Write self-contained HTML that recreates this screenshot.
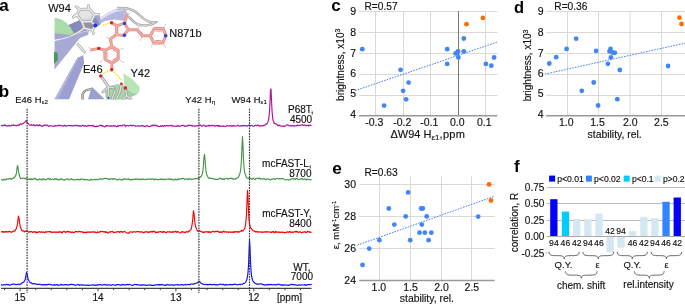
<!DOCTYPE html>
<html><head><meta charset="utf-8"><style>
html,body{margin:0;padding:0;background:#fff;}
body{width:685px;height:305px;overflow:hidden;}
svg{display:block;font-family:"Liberation Sans", sans-serif;will-change:transform;}
text{stroke:#111;stroke-width:0.15px;paint-order:stroke;} text[font-weight="bold"]{stroke:none;}
</style></head><body>
<svg width="685" height="305" viewBox="0 0 685 305">
<rect width="685" height="305" fill="#fff"/>
<text x="-0.7" y="11.0" font-size="17" text-anchor="start" font-weight="bold" fill="#000" >a</text>
<text x="-1.3" y="97.4" font-size="17" text-anchor="start" font-weight="bold" fill="#000" >b</text>
<text x="331.2" y="11.2" font-size="17" text-anchor="start" font-weight="bold" fill="#000" >c</text>
<text x="513.9" y="12.6" font-size="16.5" text-anchor="start" font-weight="bold" fill="#000" >d</text>
<text x="332.3" y="173.7" font-size="17.2" text-anchor="start" font-weight="bold" fill="#000" >e</text>
<text x="514.0" y="172.0" font-size="17" text-anchor="start" font-weight="bold" fill="#000" >f</text>

<g>
 <defs><clipPath id="clipA"><rect x="54" y="0" width="120" height="99.6"/></clipPath></defs>
 <g clip-path="url(#clipA)">
 <!-- band A (upper sheet) -->
 <polygon points="54.6,31 62,29 70,25 80,20 92,15.5 100,16 101,24 94,28 84,31 72,35.5 62,38.5 54.6,39.8" fill="#a2a5d2"/>
 <polygon points="66,26 80,20 96,18 100,25 88,30 76,33.5 66,33" fill="#878abd"/>
 <!-- band B -->
 <polygon points="54.6,41 64,38.8 74,35.5 84,31.5 89,31 88,35 80,38 66.2,55 54.4,69.7" fill="#a7aad5"/>
 <!-- dark green sliver -->
 <polygon points="54,52 57.5,52.5 58,60 54,64" fill="#4c9a58"/>
 <!-- long strand C -->
 <polygon points="54.4,99.6 77.3,58 83.2,55.3 84.2,63 69,99.6" fill="#9c9fcf"/>
 <polygon points="54.4,99.6 77.3,58 79,57.4 57.5,99.6" fill="#b3b5dc"/>
 <!-- bottom lavender -->
 <polygon points="91.8,86.7 105,99.6 88,99.6" fill="#9c9fcf"/>
 <!-- green helix top-left -->
 <path d="M54.6,17.8 C62,18.2 70,23.5 75.2,36.4 C68,34.4 60,33.7 54.6,33.6 Z" fill="#a9dca9"/>
 <!-- green helix bottom (Y42) -->
 <path d="M106,100 L105,93 L110,86 L118,84 L124,85.5 L129,90 L131,100 Z" fill="#a6d8a6"/>
 <path d="M123.3,73.2 C128,76 136,81 140,88 C139.5,91 138.5,93 137,94.5 C132,93 127,90 124.5,86 Z" fill="#b8e4b8"/>
 <path d="M124.5,86 C127,90 132,93 137,94.5 L131,97 L128,92 Z" fill="#9ccf9c"/>
 <!-- light sheet top right -->
 <polygon points="100,18 108,12.5 116.8,8.6 123.7,8 126,10 128.3,16 123.7,20.7 114,19.5 105,21 100,24" fill="#b4b6de"/>
 <polygon points="100,18 108,12.5 116.8,8.6 123.7,8 125,10 116,12 108,15.5 101,20" fill="#dcdef2"/>
 <!-- gray loops -->
 <path d="M117,8.5 C126,7 134,9.5 140,15.5 C145,20.5 150,22.8 155,22.5 C152,25 145,26 140,25 C135,24 131,19 128.5,16.5" fill="none" stroke="#a0a0a0" stroke-width="2.4"/>
 <path d="M117,8.5 C126,7 134,9.5 140,15.5 C145,20.5 150,22.8 155,22.5 C152,25 145,26 140,25 C135,24 131,19 128.5,16.5" fill="none" stroke="#e4e4e4" stroke-width="1"/>
 <path d="M83,100 C81,93 85,88.5 91.5,89.5" fill="none" stroke="#808080" stroke-width="2.4"/>
 <path d="M83,100 C81,93 85,88.5 91.5,89.5" fill="none" stroke="#d0d0d0" stroke-width="0.9"/>
 <!-- W94 sticks (white-gray) -->
 <g id="w94" fill="none" stroke-linejoin="round" stroke-linecap="round">
  <path id="w94p" d="M76.8,14.6 L79.8,9.3 L89,8.8 L94.6,14.6 L91.2,21.6 L81.8,21.6 Z M91.2,21.6 L95.3,25.6 L92.3,30.1 L84.4,28.2 L81.8,21.6 M84.4,28.2 L78,32.5 L71,36 M79.8,9.3 L76,6.6 M89,8.8 L88.5,5.6 M94.6,14.6 L98.8,14.6 M76.8,14.6 L73.2,17.2 M92.3,30.1 L93.5,33.5 M78,44.5 L84.5,52"/>
 </g>
 <polygon points="76.8,14.6 79.8,9.3 89,8.8 94.6,14.6 91.2,21.6 81.8,21.6" fill="#e2e2e2" fill-opacity="0.9"/>
 <polygon points="91.2,21.6 95.3,25.6 92.3,30.1 84.4,28.2 81.8,21.6" fill="#9a9a9a" fill-opacity="0.6"/>
 <use href="#w94p" stroke="#a4a4a4" stroke-width="2.7" fill="none" stroke-linejoin="round" stroke-linecap="round"/>
 <use href="#w94p" stroke="#f2f2f2" stroke-width="1.3" fill="none" stroke-linejoin="round" stroke-linecap="round"/>
 <circle cx="95.3" cy="25.6" r="2" fill="#2233ee"/>
 <!-- E46 / Y42 sticks -->
 <path id="e46p" d="M100.8,75.9 L108.6,86.9 L108,96 M108.6,86.9 L114.5,88 M108.6,86.9 L103,92 M125.4,88 L126.5,95.5 L122.5,100 M121.5,84 L119.5,93 L116,100 M115,91 L112,99.6 M126.5,95.5 L131,99"
   fill="none"/>
 <use href="#e46p" stroke="#a0a0a0" stroke-width="2.8" stroke-linejoin="round" stroke-linecap="round"/>
 <use href="#e46p" stroke="#e2e2e2" stroke-width="1.2" stroke-linejoin="round" stroke-linecap="round"/>
 <circle cx="100.8" cy="75.9" r="1.7" fill="#dd2222"/>
 <circle cx="125.4" cy="88" r="1.8" fill="#dd2222"/>
 <circle cx="121.3" cy="83.8" r="1.2" fill="#dd2222"/>
 <circle cx="108.5" cy="98" r="1" fill="#2233ee"/>
 <!-- ligand -->
 <g stroke="#d6d6d6" stroke-width="1.1" fill="none" stroke-linecap="round">
  <path d="M120.5,49.5 L123.5,48 M120.5,60.5 L123.5,62.5 M102.5,60.5 L100,62.5 M109,39 L106.5,37 M138,29 L139,25.5 M142,37 L140.5,40.5 M164,27 L165.5,24.5 M164,44.5 L165.5,47 M152.5,44.5 L151,47 M91,49.7 L89,47 M91,49.7 L90,52.5 M127,15 L130,13 M127,15 L124,13"/>
 </g>
 <g fill="none" stroke="#e38e86" stroke-width="3" stroke-linejoin="round" stroke-linecap="round">
  <path id="lig1" d="M116.7,25.8 L124.5,23.2 L128.4,29.7 L123.5,35.4 L116.6,34.6 Z M124.5,23.2 L127,15 M128.4,29.7 L137.2,29.7 L142.2,35.7 L150.3,35.7 M150.3,35.7 L154.3,28.4 L163.1,28.4 L166,35.7 L162.6,43.1 L153.8,43.1 Z M117.3,33.7 L110.5,39 L111.8,46.9 M111.8,46.9 L118.2,50.3 L118.2,59.2 L111.8,63.1 L104.9,59.2 L104.9,50.3 Z M104.9,50.3 L98.8,48.4 L92,49.7 M111.8,63.1 L111.8,69.5 M116.7,25.8 L112,23"/>
 </g>
 <g fill="none" stroke="#f3b5ad" stroke-width="1.1" stroke-linejoin="round" stroke-linecap="round">
  <use href="#lig1"/>
 </g>
 <g fill="none" stroke="#e38e86" stroke-width="1" stroke-linecap="round">
  <path d="M113,50 L116.3,51.8 M116.3,57.8 L113,59.8 M107,57.5 L107,52 M156,31 L161.5,31 M161,40.6 L155.5,40.6 M140.5,31.8 L142.8,34"/>
 </g>
 <circle cx="111.5" cy="22.7" r="1.7" fill="#e02020"/>
 <circle cx="111.7" cy="69.7" r="1.7" fill="#e02020"/>
 <circle cx="98.8" cy="48.4" r="1.7" fill="#e02020"/>
 <circle cx="124.5" cy="23.4" r="1.7" fill="#2244ee"/>
 <circle cx="124.5" cy="35.2" r="1.7" fill="#2244ee"/>
 <circle cx="165.6" cy="35.7" r="1.8" fill="#2244ee"/>
 <!-- H-bonds -->
 <path d="M102.7,25.6 L109,23.2 M110.4,70.2 L102.6,73.5 M113.9,71.9 L122.5,81.1" stroke="#e8e81a" stroke-width="1.6" stroke-dasharray="1.4,1.1" fill="none"/>
 </g>
</g>

<text x="48.2" y="11.8" font-size="11" text-anchor="start" font-weight="normal" fill="#111" >W94</text>
<text x="83" y="72.8" font-size="11" text-anchor="start" font-weight="normal" fill="#111" >E46</text>
<text x="169.2" y="37" font-size="11" text-anchor="start" font-weight="normal" fill="#111" >N871b</text>
<text x="130.5" y="77.2" font-size="11" text-anchor="start" font-weight="normal" fill="#111" >Y42</text>
<g>
<path d="M1.0,125.40 L1.5,125.59 L2.0,125.48 L2.5,125.69 L3.0,125.83 L3.5,125.23 L4.0,124.84 L4.5,125.60 L5.0,125.32 L5.5,125.13 L6.0,125.94 L6.5,125.74 L7.0,126.07 L7.5,125.81 L8.0,125.85 L8.5,125.28 L9.0,125.54 L9.5,125.95 L10.0,125.75 L10.5,125.89 L11.0,125.87 L11.5,125.12 L12.0,125.52 L12.5,125.53 L13.0,125.17 L13.5,124.62 L14.0,125.31 L14.5,125.19 L15.0,125.40 L15.5,125.68 L16.0,125.61 L16.5,125.79 L17.0,125.22 L17.5,125.37 L18.0,124.98 L18.5,125.32 L19.0,125.40 L19.5,124.46 L20.0,123.95 L20.5,123.72 L21.0,124.43 L21.5,124.13 L22.0,124.13 L22.5,123.66 L23.0,123.55 L23.5,123.20 L24.0,122.76 L24.5,122.48 L25.0,121.86 L25.5,121.36 L26.0,120.59 L26.5,121.03 L27.0,122.04 L27.5,123.26 L28.0,123.75 L28.5,123.53 L29.0,124.32 L29.5,124.95 L30.0,125.28 L30.5,125.11 L31.0,125.23 L31.5,124.73 L32.0,125.24 L32.5,125.24 L33.0,124.92 L33.5,124.50 L34.0,125.25 L34.5,125.84 L35.0,125.10 L35.5,125.56 L36.0,125.37 L36.5,124.96 L37.0,124.92 L37.5,125.48 L38.0,125.93 L38.5,125.19 L39.0,125.48 L39.5,124.96 L40.0,125.49 L40.5,125.33 L41.0,125.90 L41.5,126.35 L42.0,126.03 L42.5,126.45 L43.0,125.86 L43.5,125.26 L44.0,125.56 L44.5,125.05 L45.0,124.97 L45.5,125.19 L46.0,125.55 L46.5,125.21 L47.0,124.89 L47.5,125.71 L48.0,125.49 L48.5,126.15 L49.0,126.44 L49.5,125.98 L50.0,125.83 L50.5,125.82 L51.0,125.97 L51.5,125.99 L52.0,125.96 L52.5,126.02 L53.0,126.44 L53.5,126.15 L54.0,125.91 L54.5,126.12 L55.0,125.66 L55.5,125.48 L56.0,126.20 L56.5,126.04 L57.0,125.99 L57.5,125.32 L58.0,125.44 L58.5,125.70 L59.0,125.18 L59.5,125.60 L60.0,125.86 L60.5,125.31 L61.0,125.70 L61.5,125.71 L62.0,125.98 L62.5,125.73 L63.0,126.03 L63.5,126.22 L64.0,125.47 L64.5,125.11 L65.0,125.65 L65.5,126.29 L66.0,125.79 L66.5,125.76 L67.0,125.91 L67.5,125.66 L68.0,125.58 L68.5,125.48 L69.0,125.49 L69.5,125.76 L70.0,125.56 L70.5,125.54 L71.0,126.01 L71.5,125.37 L72.0,125.67 L72.5,126.04 L73.0,125.73 L73.5,125.45 L74.0,126.00 L74.5,125.62 L75.0,125.35 L75.5,125.50 L76.0,125.90 L76.5,125.40 L77.0,125.40 L77.5,125.41 L78.0,126.01 L78.5,125.87 L79.0,126.29 L79.5,125.70 L80.0,125.58 L80.5,125.89 L81.0,126.34 L81.5,126.07 L82.0,125.65 L82.5,125.29 L83.0,125.59 L83.5,125.34 L84.0,125.95 L84.5,126.32 L85.0,125.74 L85.5,125.53 L86.0,126.05 L86.5,126.14 L87.0,126.39 L87.5,125.97 L88.0,125.48 L88.5,125.41 L89.0,125.97 L89.5,125.65 L90.0,125.57 L90.5,125.61 L91.0,125.63 L91.5,125.63 L92.0,126.25 L92.5,125.67 L93.0,125.17 L93.5,126.02 L94.0,126.41 L94.5,126.75 L95.0,126.28 L95.5,126.64 L96.0,126.81 L96.5,126.06 L97.0,126.27 L97.5,126.50 L98.0,126.41 L98.5,126.20 L99.0,125.80 L99.5,125.65 L100.0,125.42 L100.5,125.11 L101.0,125.56 L101.5,125.45 L102.0,126.02 L102.5,125.41 L103.0,126.11 L103.5,126.24 L104.0,126.59 L104.5,126.74 L105.0,126.84 L105.5,126.50 L106.0,125.64 L106.5,126.04 L107.0,125.58 L107.5,125.47 L108.0,125.85 L108.5,125.90 L109.0,125.79 L109.5,126.36 L110.0,126.28 L110.5,125.91 L111.0,125.60 L111.5,126.16 L112.0,126.01 L112.5,126.29 L113.0,125.93 L113.5,125.55 L114.0,125.74 L114.5,126.19 L115.0,125.66 L115.5,126.11 L116.0,126.51 L116.5,126.60 L117.0,126.67 L117.5,125.72 L118.0,125.95 L118.5,126.36 L119.0,125.60 L119.5,125.46 L120.0,125.37 L120.5,125.64 L121.0,125.66 L121.5,125.73 L122.0,126.13 L122.5,125.42 L123.0,125.10 L123.5,125.00 L124.0,124.95 L124.5,124.85 L125.0,125.89 L125.5,126.31 L126.0,125.62 L126.5,125.75 L127.0,125.59 L127.5,125.50 L128.0,125.50 L128.5,125.85 L129.0,125.97 L129.5,125.77 L130.0,125.45 L130.5,125.44 L131.0,125.19 L131.5,125.57 L132.0,125.97 L132.5,125.79 L133.0,125.33 L133.5,125.20 L134.0,125.35 L134.5,125.72 L135.0,126.13 L135.5,125.88 L136.0,126.25 L136.5,126.23 L137.0,126.00 L137.5,125.79 L138.0,125.83 L138.5,126.10 L139.0,125.91 L139.5,126.13 L140.0,125.98 L140.5,125.63 L141.0,125.79 L141.5,126.07 L142.0,125.47 L142.5,125.57 L143.0,125.62 L143.5,126.20 L144.0,126.58 L144.5,126.12 L145.0,126.49 L145.5,126.57 L146.0,125.98 L146.5,125.89 L147.0,125.44 L147.5,126.02 L148.0,126.15 L148.5,126.50 L149.0,126.58 L149.5,126.47 L150.0,126.49 L150.5,126.29 L151.0,125.64 L151.5,125.85 L152.0,125.28 L152.5,125.12 L153.0,125.80 L153.5,125.29 L154.0,125.07 L154.5,124.96 L155.0,125.83 L155.5,125.47 L156.0,125.09 L156.5,125.86 L157.0,125.42 L157.5,126.04 L158.0,126.18 L158.5,126.45 L159.0,126.74 L159.5,126.45 L160.0,126.56 L160.5,125.70 L161.0,126.11 L161.5,126.02 L162.0,126.22 L162.5,125.60 L163.0,126.03 L163.5,126.49 L164.0,125.69 L164.5,125.57 L165.0,125.79 L165.5,126.23 L166.0,125.76 L166.5,125.44 L167.0,125.34 L167.5,125.72 L168.0,126.10 L168.5,125.88 L169.0,125.72 L169.5,125.67 L170.0,125.59 L170.5,125.62 L171.0,125.24 L171.5,125.53 L172.0,126.26 L172.5,125.99 L173.0,126.24 L173.5,125.67 L174.0,126.00 L174.5,126.25 L175.0,126.30 L175.5,126.13 L176.0,126.00 L176.5,126.12 L177.0,126.49 L177.5,125.80 L178.0,125.35 L178.5,125.89 L179.0,126.38 L179.5,126.18 L180.0,125.97 L180.5,126.19 L181.0,125.68 L181.5,125.49 L182.0,125.30 L182.5,125.66 L183.0,125.54 L183.5,125.37 L184.0,125.82 L184.5,126.39 L185.0,125.91 L185.5,126.14 L186.0,125.91 L186.5,126.31 L187.0,126.21 L187.5,125.77 L188.0,125.47 L188.5,125.07 L189.0,125.40 L189.5,125.46 L190.0,125.23 L190.5,125.34 L191.0,125.34 L191.5,125.88 L192.0,125.42 L192.5,126.18 L193.0,125.97 L193.5,125.99 L194.0,125.83 L194.5,126.17 L195.0,126.32 L195.5,126.06 L196.0,125.79 L196.5,125.88 L197.0,126.03 L197.5,125.48 L198.0,125.50 L198.5,125.72 L199.0,125.28 L199.5,124.84 L200.0,124.71 L200.5,125.30 L201.0,125.63 L201.5,126.18 L202.0,126.38 L202.5,125.77 L203.0,125.39 L203.5,125.27 L204.0,125.12 L204.5,125.67 L205.0,126.16 L205.5,126.49 L206.0,125.90 L206.5,126.31 L207.0,125.87 L207.5,125.77 L208.0,126.08 L208.5,125.48 L209.0,125.16 L209.5,125.87 L210.0,125.62 L210.5,125.55 L211.0,125.79 L211.5,126.03 L212.0,125.37 L212.5,125.39 L213.0,125.53 L213.5,125.66 L214.0,125.41 L214.5,125.72 L215.0,126.33 L215.5,125.99 L216.0,125.99 L216.5,125.48 L217.0,125.39 L217.5,125.80 L218.0,125.37 L218.5,126.06 L219.0,126.47 L219.5,125.72 L220.0,126.32 L220.5,125.97 L221.0,126.25 L221.5,126.39 L222.0,125.91 L222.5,126.11 L223.0,126.19 L223.5,126.41 L224.0,125.89 L224.5,126.19 L225.0,126.60 L225.5,126.48 L226.0,126.25 L226.5,125.62 L227.0,125.72 L227.5,125.61 L228.0,125.99 L228.5,126.15 L229.0,126.10 L229.5,125.62 L230.0,125.91 L230.5,126.05 L231.0,125.58 L231.5,126.18 L232.0,126.22 L232.5,125.61 L233.0,126.24 L233.5,125.64 L234.0,125.54 L234.5,125.95 L235.0,126.03 L235.5,126.02 L236.0,126.13 L236.5,125.96 L237.0,125.69 L237.5,125.38 L238.0,125.08 L238.5,125.69 L239.0,126.07 L239.5,126.02 L240.0,126.23 L240.5,125.89 L241.0,125.59 L241.5,125.57 L242.0,126.14 L242.5,125.46 L243.0,125.64 L243.5,125.43 L244.0,125.94 L244.5,125.72 L245.0,125.57 L245.5,125.57 L246.0,125.74 L246.5,126.10 L247.0,125.80 L247.5,126.23 L248.0,125.58 L248.5,125.41 L249.0,125.11 L249.5,124.96 L250.0,125.67 L250.5,126.00 L251.0,125.53 L251.5,125.27 L252.0,125.40 L252.5,125.86 L253.0,126.20 L253.5,126.30 L254.0,126.16 L254.5,125.55 L255.0,125.51 L255.5,125.24 L256.0,125.48 L256.5,125.66 L257.0,125.31 L257.5,125.17 L258.0,125.72 L258.5,125.11 L259.0,125.69 L259.5,126.11 L260.0,126.39 L260.5,125.85 L261.0,125.73 L261.5,125.69 L262.0,125.69 L262.5,126.08 L263.0,125.90 L263.5,125.29 L264.0,125.57 L264.5,125.20 L265.0,125.05 L265.5,124.99 L266.0,123.93 L266.5,124.05 L267.0,123.67 L267.5,122.80 L268.0,121.66 L268.5,119.80 L269.0,116.48 L269.5,111.46 L270.0,101.84 L270.5,90.31 L271.0,88.95 L271.5,100.05 L272.0,110.20 L272.5,116.60 L273.0,120.11 L273.5,121.26 L274.0,122.83 L274.5,123.62 L275.0,123.48 L275.5,123.87 L276.0,124.01 L276.5,123.96 L277.0,124.53 L277.5,125.36 L278.0,125.12 L278.5,125.68 L279.0,125.80 L279.5,125.21 L280.0,125.78 L280.5,125.80 L281.0,126.21 L281.5,126.20 L282.0,126.23 L282.5,125.78 L283.0,126.10 L283.5,126.43 L284.0,126.54 L284.5,126.09 L285.0,126.23 L285.5,125.99 L286.0,125.41 L286.5,125.02 L287.0,124.85 L287.5,124.90 L288.0,124.89 L288.5,125.29 L289.0,125.75 L289.5,125.82 L290.0,125.72 L290.5,125.94 L291.0,125.64 L291.5,125.68 L292.0,126.05 L292.5,125.83 L293.0,125.44 L293.5,126.10 L294.0,126.24 L294.5,125.90 L295.0,125.71 L295.5,125.81 L296.0,125.94 L296.5,125.56 L297.0,125.09 L297.5,125.08 L298.0,125.77 L298.5,125.38 L299.0,125.54 L299.5,125.32 L300.0,125.21 L300.5,125.11 L301.0,125.33 L301.5,125.17 L302.0,124.91 L302.5,124.87 L303.0,124.92 L303.5,125.33 L304.0,125.04 L304.5,124.84 L305.0,125.24 L305.5,125.41 L306.0,125.86 L306.5,125.33 L307.0,125.45 L307.5,125.52 L308.0,125.11 L308.5,126.01 L309.0,125.61 L309.5,125.24 L310.0,125.50 L310.5,125.26 L311.0,125.69 L311.5,125.59" fill="none" stroke="#b0109c" stroke-width="1.15" stroke-linejoin="round"/>
<path d="M1.0,179.38 L1.5,179.60 L2.0,179.79 L2.5,180.06 L3.0,179.97 L3.5,180.13 L4.0,179.14 L4.5,179.12 L5.0,179.68 L5.5,179.63 L6.0,179.90 L6.5,179.09 L7.0,179.07 L7.5,178.78 L8.0,178.97 L8.5,179.10 L9.0,178.49 L9.5,178.38 L10.0,178.37 L10.5,179.11 L11.0,179.31 L11.5,178.66 L12.0,179.01 L12.5,178.36 L13.0,178.49 L13.5,177.87 L14.0,177.21 L14.5,177.65 L15.0,176.74 L15.5,175.64 L16.0,174.93 L16.5,172.65 L17.0,168.20 L17.5,165.51 L18.0,166.87 L18.5,171.03 L19.0,173.64 L19.5,176.12 L20.0,177.26 L20.5,178.30 L21.0,178.85 L21.5,178.50 L22.0,178.43 L22.5,178.19 L23.0,178.07 L23.5,177.93 L24.0,178.16 L24.5,178.67 L25.0,178.24 L25.5,178.83 L26.0,178.75 L26.5,178.69 L27.0,179.27 L27.5,179.19 L28.0,178.95 L28.5,179.03 L29.0,179.34 L29.5,178.74 L30.0,179.52 L30.5,178.80 L31.0,179.29 L31.5,179.67 L32.0,178.89 L32.5,179.39 L33.0,179.16 L33.5,179.29 L34.0,178.67 L34.5,178.39 L35.0,178.39 L35.5,179.32 L36.0,178.93 L36.5,179.38 L37.0,179.84 L37.5,180.11 L38.0,179.54 L38.5,179.24 L39.0,179.28 L39.5,179.60 L40.0,178.98 L40.5,179.41 L41.0,179.70 L41.5,179.94 L42.0,179.08 L42.5,179.70 L43.0,179.02 L43.5,178.94 L44.0,179.22 L44.5,179.75 L45.0,179.34 L45.5,179.82 L46.0,179.63 L46.5,179.25 L47.0,179.04 L47.5,178.76 L48.0,178.49 L48.5,178.42 L49.0,179.04 L49.5,179.74 L50.0,179.13 L50.5,178.66 L51.0,179.52 L51.5,179.45 L52.0,179.26 L52.5,178.96 L53.0,179.22 L53.5,179.64 L54.0,179.43 L54.5,179.27 L55.0,178.74 L55.5,179.49 L56.0,178.84 L56.5,179.03 L57.0,179.55 L57.5,178.99 L58.0,179.40 L58.5,179.89 L59.0,179.78 L59.5,179.90 L60.0,179.15 L60.5,179.14 L61.0,178.78 L61.5,179.42 L62.0,179.12 L62.5,179.14 L63.0,179.81 L63.5,180.00 L64.0,180.25 L64.5,179.76 L65.0,179.53 L65.5,179.70 L66.0,179.49 L66.5,179.15 L67.0,179.10 L67.5,178.76 L68.0,178.85 L68.5,179.63 L69.0,180.03 L69.5,179.85 L70.0,179.60 L70.5,179.27 L71.0,178.78 L71.5,178.74 L72.0,179.33 L72.5,179.75 L73.0,179.38 L73.5,179.68 L74.0,179.84 L74.5,179.82 L75.0,179.78 L75.5,179.87 L76.0,179.45 L76.5,179.62 L77.0,179.21 L77.5,179.23 L78.0,179.58 L78.5,179.68 L79.0,179.26 L79.5,179.81 L80.0,179.76 L80.5,179.64 L81.0,178.90 L81.5,179.13 L82.0,178.91 L82.5,179.29 L83.0,179.24 L83.5,179.65 L84.0,179.66 L84.5,179.85 L85.0,179.42 L85.5,179.53 L86.0,179.71 L86.5,179.92 L87.0,179.46 L87.5,179.79 L88.0,180.01 L88.5,179.91 L89.0,180.21 L89.5,180.34 L90.0,179.89 L90.5,179.66 L91.0,179.09 L91.5,179.59 L92.0,179.98 L92.5,179.64 L93.0,179.72 L93.5,179.79 L94.0,179.84 L94.5,179.20 L95.0,179.58 L95.5,179.55 L96.0,179.63 L96.5,179.38 L97.0,179.49 L97.5,179.73 L98.0,179.70 L98.5,179.78 L99.0,178.99 L99.5,178.72 L100.0,178.91 L100.5,179.26 L101.0,178.94 L101.5,179.32 L102.0,179.47 L102.5,178.84 L103.0,179.01 L103.5,178.81 L104.0,178.49 L104.5,178.41 L105.0,178.59 L105.5,178.52 L106.0,178.50 L106.5,178.30 L107.0,178.71 L107.5,178.83 L108.0,179.17 L108.5,179.33 L109.0,179.00 L109.5,179.62 L110.0,178.87 L110.5,178.95 L111.0,178.84 L111.5,178.93 L112.0,178.63 L112.5,179.33 L113.0,179.16 L113.5,178.66 L114.0,179.08 L114.5,178.69 L115.0,179.02 L115.5,178.95 L116.0,179.20 L116.5,179.79 L117.0,179.95 L117.5,179.56 L118.0,179.81 L118.5,179.75 L119.0,179.39 L119.5,178.91 L120.0,179.20 L120.5,179.32 L121.0,179.85 L121.5,180.16 L122.0,179.90 L122.5,179.45 L123.0,179.85 L123.5,179.00 L124.0,178.66 L124.5,179.02 L125.0,179.28 L125.5,178.85 L126.0,179.21 L126.5,179.71 L127.0,179.37 L127.5,179.25 L128.0,178.94 L128.5,178.85 L129.0,179.61 L129.5,179.32 L130.0,179.86 L130.5,180.10 L131.0,179.85 L131.5,179.31 L132.0,179.88 L132.5,179.61 L133.0,179.36 L133.5,179.11 L134.0,179.77 L134.5,179.55 L135.0,179.17 L135.5,179.20 L136.0,178.79 L136.5,179.16 L137.0,179.15 L137.5,178.96 L138.0,179.45 L138.5,179.77 L139.0,178.97 L139.5,179.15 L140.0,178.94 L140.5,179.62 L141.0,179.81 L141.5,179.27 L142.0,179.00 L142.5,178.71 L143.0,179.56 L143.5,179.19 L144.0,179.36 L144.5,179.30 L145.0,179.47 L145.5,179.51 L146.0,179.70 L146.5,179.06 L147.0,179.47 L147.5,179.15 L148.0,179.25 L148.5,179.07 L149.0,178.92 L149.5,179.12 L150.0,179.15 L150.5,179.04 L151.0,179.45 L151.5,179.48 L152.0,178.84 L152.5,178.74 L153.0,178.93 L153.5,179.59 L154.0,179.92 L154.5,179.69 L155.0,178.92 L155.5,179.42 L156.0,179.27 L156.5,179.36 L157.0,179.58 L157.5,179.60 L158.0,179.43 L158.5,179.86 L159.0,179.46 L159.5,179.25 L160.0,179.68 L160.5,179.14 L161.0,178.96 L161.5,179.50 L162.0,178.88 L162.5,179.46 L163.0,179.61 L163.5,179.38 L164.0,179.07 L164.5,179.50 L165.0,179.89 L165.5,179.18 L166.0,179.20 L166.5,179.29 L167.0,179.28 L167.5,179.07 L168.0,178.74 L168.5,179.08 L169.0,179.54 L169.5,178.90 L170.0,178.74 L170.5,179.36 L171.0,179.67 L171.5,179.68 L172.0,178.92 L172.5,179.34 L173.0,179.88 L173.5,180.20 L174.0,180.02 L174.5,179.13 L175.0,179.60 L175.5,179.11 L176.0,179.35 L176.5,179.85 L177.0,179.83 L177.5,179.13 L178.0,178.93 L178.5,179.57 L179.0,179.00 L179.5,179.24 L180.0,179.14 L180.5,178.77 L181.0,179.13 L181.5,178.62 L182.0,178.42 L182.5,178.64 L183.0,178.39 L183.5,178.23 L184.0,178.76 L184.5,179.25 L185.0,179.68 L185.5,179.03 L186.0,179.02 L186.5,178.87 L187.0,179.13 L187.5,179.14 L188.0,179.68 L188.5,179.29 L189.0,178.69 L189.5,179.13 L190.0,178.71 L190.5,179.05 L191.0,179.08 L191.5,179.58 L192.0,179.41 L192.5,179.40 L193.0,178.95 L193.5,179.03 L194.0,178.71 L194.5,179.12 L195.0,179.04 L195.5,178.52 L196.0,178.33 L196.5,178.36 L197.0,178.78 L197.5,178.29 L198.0,178.62 L198.5,178.65 L199.0,177.90 L199.5,178.07 L200.0,177.31 L200.5,176.71 L201.0,176.61 L201.5,175.65 L202.0,175.11 L202.5,173.06 L203.0,169.53 L203.5,164.50 L204.0,156.69 L204.5,154.42 L205.0,159.41 L205.5,166.02 L206.0,171.37 L206.5,174.17 L207.0,175.29 L207.5,175.91 L208.0,177.39 L208.5,177.92 L209.0,178.48 L209.5,178.03 L210.0,178.42 L210.5,178.34 L211.0,178.19 L211.5,178.26 L212.0,178.65 L212.5,178.57 L213.0,178.59 L213.5,178.31 L214.0,179.00 L214.5,179.18 L215.0,179.47 L215.5,179.19 L216.0,179.55 L216.5,179.35 L217.0,179.33 L217.5,179.31 L218.0,179.49 L218.5,179.19 L219.0,178.66 L219.5,178.30 L220.0,178.31 L220.5,178.11 L221.0,179.03 L221.5,179.04 L222.0,179.39 L222.5,178.66 L223.0,178.83 L223.5,179.42 L224.0,179.42 L224.5,179.19 L225.0,179.11 L225.5,178.62 L226.0,178.42 L226.5,178.31 L227.0,178.50 L227.5,178.62 L228.0,179.27 L228.5,178.75 L229.0,178.58 L229.5,178.50 L230.0,178.32 L230.5,178.35 L231.0,178.30 L231.5,178.55 L232.0,178.14 L232.5,178.96 L233.0,178.73 L233.5,179.26 L234.0,179.22 L234.5,179.15 L235.0,178.82 L235.5,179.16 L236.0,178.28 L236.5,178.38 L237.0,177.87 L237.5,177.91 L238.0,177.80 L238.5,176.79 L239.0,175.88 L239.5,174.57 L240.0,173.13 L240.5,170.52 L241.0,166.48 L241.5,159.34 L242.0,145.96 L242.5,136.53 L243.0,145.82 L243.5,158.76 L244.0,167.20 L244.5,171.76 L245.0,173.68 L245.5,174.97 L246.0,176.33 L246.5,177.52 L247.0,177.92 L247.5,177.97 L248.0,178.71 L248.5,178.02 L249.0,177.74 L249.5,178.49 L250.0,178.49 L250.5,178.08 L251.0,178.48 L251.5,179.25 L252.0,179.13 L252.5,178.87 L253.0,178.43 L253.5,178.18 L254.0,179.04 L254.5,179.04 L255.0,179.57 L255.5,178.82 L256.0,178.64 L256.5,178.31 L257.0,178.55 L257.5,178.29 L258.0,178.38 L258.5,178.62 L259.0,178.63 L259.5,178.33 L260.0,178.16 L260.5,179.18 L261.0,178.80 L261.5,178.99 L262.0,178.96 L262.5,179.11 L263.0,178.65 L263.5,178.68 L264.0,178.45 L264.5,178.85 L265.0,179.52 L265.5,179.50 L266.0,179.81 L266.5,179.20 L267.0,178.64 L267.5,178.95 L268.0,179.06 L268.5,179.23 L269.0,179.09 L269.5,179.31 L270.0,179.55 L270.5,179.91 L271.0,179.38 L271.5,179.26 L272.0,179.65 L272.5,179.14 L273.0,178.73 L273.5,178.74 L274.0,178.48 L274.5,179.16 L275.0,179.59 L275.5,179.21 L276.0,178.79 L276.5,178.50 L277.0,178.54 L277.5,178.37 L278.0,178.68 L278.5,179.04 L279.0,178.84 L279.5,178.50 L280.0,179.09 L280.5,178.63 L281.0,178.56 L281.5,178.62 L282.0,178.76 L282.5,178.51 L283.0,178.76 L283.5,178.77 L284.0,179.30 L284.5,179.35 L285.0,179.79 L285.5,179.75 L286.0,179.85 L286.5,179.68 L287.0,179.43 L287.5,179.74 L288.0,179.72 L288.5,180.07 L289.0,179.99 L289.5,179.91 L290.0,179.35 L290.5,179.69 L291.0,179.36 L291.5,178.88 L292.0,178.54 L292.5,178.48 L293.0,178.55 L293.5,179.09 L294.0,178.92 L294.5,178.56 L295.0,179.20 L295.5,179.31 L296.0,178.73 L296.5,178.44 L297.0,178.38 L297.5,178.61 L298.0,179.35 L298.5,179.86 L299.0,179.73 L299.5,179.21 L300.0,179.16 L300.5,179.05 L301.0,178.95 L301.5,178.52 L302.0,178.96 L302.5,179.50 L303.0,179.68 L303.5,179.02 L304.0,179.17 L304.5,178.83 L305.0,179.29 L305.5,179.22 L306.0,179.78 L306.5,179.91 L307.0,179.17 L307.5,179.01 L308.0,179.63 L308.5,179.43 L309.0,179.29 L309.5,179.22 L310.0,179.57 L310.5,179.97 L311.0,179.70 L311.5,180.08" fill="none" stroke="#479647" stroke-width="1.15" stroke-linejoin="round"/>
<path d="M1.0,231.99 L1.5,231.85 L2.0,231.50 L2.5,232.17 L3.0,231.51 L3.5,231.73 L4.0,232.33 L4.5,231.67 L5.0,231.88 L5.5,232.06 L6.0,231.47 L6.5,231.54 L7.0,231.96 L7.5,231.89 L8.0,232.16 L8.5,231.63 L9.0,231.42 L9.5,231.14 L10.0,231.44 L10.5,232.09 L11.0,232.03 L11.5,232.19 L12.0,231.78 L12.5,231.94 L13.0,231.21 L13.5,230.96 L14.0,231.19 L14.5,231.25 L15.0,230.74 L15.5,229.79 L16.0,229.06 L16.5,227.90 L17.0,226.19 L17.5,223.88 L18.0,219.04 L18.5,216.01 L19.0,218.13 L19.5,222.01 L20.0,225.54 L20.5,227.81 L21.0,228.58 L21.5,229.57 L22.0,230.77 L22.5,230.55 L23.0,231.06 L23.5,230.82 L24.0,231.27 L24.5,231.92 L25.0,231.48 L25.5,231.02 L26.0,230.87 L26.5,231.35 L27.0,231.00 L27.5,230.90 L28.0,231.35 L28.5,232.11 L29.0,231.94 L29.5,231.82 L30.0,232.05 L30.5,231.53 L31.0,231.83 L31.5,231.51 L32.0,231.86 L32.5,232.48 L33.0,231.73 L33.5,231.93 L34.0,232.10 L34.5,231.64 L35.0,231.54 L35.5,232.36 L36.0,232.81 L36.5,232.01 L37.0,232.27 L37.5,232.71 L38.0,232.10 L38.5,232.21 L39.0,231.59 L39.5,231.64 L40.0,232.04 L40.5,232.15 L41.0,232.44 L41.5,231.78 L42.0,231.72 L42.5,232.31 L43.0,232.30 L43.5,232.14 L44.0,231.99 L44.5,232.61 L45.0,232.46 L45.5,231.71 L46.0,232.23 L46.5,231.95 L47.0,231.93 L47.5,231.65 L48.0,231.77 L48.5,231.70 L49.0,231.38 L49.5,231.85 L50.0,231.47 L50.5,232.09 L51.0,231.51 L51.5,232.11 L52.0,232.46 L52.5,232.29 L53.0,232.45 L53.5,231.98 L54.0,232.31 L54.5,232.12 L55.0,231.78 L55.5,232.47 L56.0,232.18 L56.5,231.98 L57.0,232.46 L57.5,232.13 L58.0,232.31 L58.5,231.82 L59.0,232.35 L59.5,231.94 L60.0,231.47 L60.5,232.32 L61.0,231.82 L61.5,232.48 L62.0,232.88 L62.5,232.65 L63.0,231.81 L63.5,231.41 L64.0,231.37 L64.5,231.56 L65.0,231.93 L65.5,232.56 L66.0,232.17 L66.5,231.70 L67.0,231.95 L67.5,231.58 L68.0,231.31 L68.5,231.73 L69.0,232.13 L69.5,231.59 L70.0,231.76 L70.5,232.15 L71.0,232.44 L71.5,232.14 L72.0,232.58 L72.5,231.96 L73.0,232.28 L73.5,232.52 L74.0,232.78 L74.5,232.46 L75.0,231.82 L75.5,231.40 L76.0,231.74 L76.5,231.51 L77.0,231.93 L77.5,231.50 L78.0,232.10 L78.5,231.76 L79.0,231.33 L79.5,231.28 L80.0,231.59 L80.5,231.89 L81.0,231.85 L81.5,231.56 L82.0,231.78 L82.5,232.46 L83.0,232.33 L83.5,232.75 L84.0,231.89 L84.5,232.57 L85.0,232.82 L85.5,232.55 L86.0,232.37 L86.5,232.29 L87.0,232.69 L87.5,231.90 L88.0,232.16 L88.5,232.18 L89.0,231.90 L89.5,232.26 L90.0,232.45 L90.5,231.81 L91.0,232.18 L91.5,232.08 L92.0,232.08 L92.5,232.25 L93.0,231.64 L93.5,231.97 L94.0,231.87 L94.5,232.43 L95.0,231.95 L95.5,232.40 L96.0,232.54 L96.5,232.49 L97.0,232.76 L97.5,231.90 L98.0,232.10 L98.5,232.24 L99.0,232.38 L99.5,232.14 L100.0,231.60 L100.5,231.45 L101.0,231.87 L101.5,231.59 L102.0,231.29 L102.5,231.48 L103.0,231.72 L103.5,231.93 L104.0,231.43 L104.5,232.06 L105.0,231.88 L105.5,232.31 L106.0,231.62 L106.5,232.38 L107.0,232.36 L107.5,232.81 L108.0,233.07 L108.5,233.03 L109.0,232.14 L109.5,231.93 L110.0,231.68 L110.5,232.20 L111.0,231.78 L111.5,231.59 L112.0,231.35 L112.5,231.23 L113.0,232.14 L113.5,232.69 L114.0,232.27 L114.5,232.48 L115.0,232.26 L115.5,232.21 L116.0,232.00 L116.5,232.20 L117.0,231.84 L117.5,231.66 L118.0,231.87 L118.5,231.61 L119.0,231.75 L119.5,232.44 L120.0,231.71 L120.5,231.40 L121.0,232.07 L121.5,231.55 L122.0,231.50 L122.5,232.18 L123.0,232.27 L123.5,231.85 L124.0,231.43 L124.5,231.46 L125.0,231.50 L125.5,232.13 L126.0,232.68 L126.5,232.76 L127.0,232.94 L127.5,233.07 L128.0,233.08 L128.5,233.14 L129.0,233.23 L129.5,232.23 L130.0,231.95 L130.5,231.71 L131.0,232.00 L131.5,232.03 L132.0,231.87 L132.5,232.38 L133.0,232.13 L133.5,231.76 L134.0,231.64 L134.5,231.80 L135.0,232.06 L135.5,232.15 L136.0,232.05 L136.5,231.69 L137.0,231.75 L137.5,231.69 L138.0,231.47 L138.5,231.80 L139.0,231.56 L139.5,232.05 L140.0,232.26 L140.5,231.74 L141.0,232.05 L141.5,231.87 L142.0,231.90 L142.5,232.11 L143.0,232.41 L143.5,232.73 L144.0,232.72 L144.5,232.09 L145.0,232.14 L145.5,231.91 L146.0,231.41 L146.5,231.78 L147.0,231.88 L147.5,232.41 L148.0,232.05 L148.5,232.47 L149.0,232.31 L149.5,231.73 L150.0,232.15 L150.5,231.86 L151.0,232.00 L151.5,231.52 L152.0,231.19 L152.5,232.09 L153.0,231.54 L153.5,231.36 L154.0,231.28 L154.5,231.15 L155.0,231.96 L155.5,232.61 L156.0,232.55 L156.5,232.21 L157.0,232.61 L157.5,232.38 L158.0,231.80 L158.5,232.15 L159.0,231.95 L159.5,231.73 L160.0,231.67 L160.5,231.71 L161.0,231.49 L161.5,231.89 L162.0,232.41 L162.5,232.34 L163.0,231.63 L163.5,232.05 L164.0,231.48 L164.5,231.72 L165.0,232.31 L165.5,232.41 L166.0,232.74 L166.5,232.74 L167.0,232.16 L167.5,231.68 L168.0,231.79 L168.5,232.12 L169.0,231.77 L169.5,231.69 L170.0,232.15 L170.5,231.92 L171.0,232.09 L171.5,232.12 L172.0,232.60 L172.5,231.77 L173.0,231.51 L173.5,232.08 L174.0,232.26 L174.5,231.66 L175.0,231.38 L175.5,231.32 L176.0,231.68 L176.5,232.31 L177.0,231.82 L177.5,231.54 L178.0,231.96 L178.5,231.87 L179.0,232.33 L179.5,232.76 L180.0,232.91 L180.5,232.73 L181.0,232.36 L181.5,231.63 L182.0,232.11 L182.5,231.88 L183.0,231.82 L183.5,231.98 L184.0,232.45 L184.5,232.20 L185.0,232.48 L185.5,232.67 L186.0,231.68 L186.5,231.44 L187.0,231.90 L187.5,231.95 L188.0,232.16 L188.5,231.24 L189.0,231.04 L189.5,231.24 L190.0,230.65 L190.5,230.13 L191.0,229.68 L191.5,227.59 L192.0,224.81 L192.5,221.68 L193.0,216.00 L193.5,210.90 L194.0,213.70 L194.5,219.33 L195.0,223.52 L195.5,226.26 L196.0,227.58 L196.5,228.85 L197.0,230.10 L197.5,230.48 L198.0,231.38 L198.5,230.81 L199.0,230.71 L199.5,230.65 L200.0,231.17 L200.5,231.03 L201.0,231.54 L201.5,231.66 L202.0,231.81 L202.5,232.22 L203.0,232.40 L203.5,232.66 L204.0,231.89 L204.5,231.74 L205.0,232.37 L205.5,232.04 L206.0,231.73 L206.5,231.80 L207.0,231.49 L207.5,232.12 L208.0,232.21 L208.5,231.61 L209.0,232.33 L209.5,232.20 L210.0,231.81 L210.5,232.02 L211.0,232.55 L211.5,232.12 L212.0,231.48 L212.5,231.35 L213.0,231.11 L213.5,231.55 L214.0,231.53 L214.5,232.17 L215.0,231.74 L215.5,231.28 L216.0,231.57 L216.5,231.32 L217.0,231.40 L217.5,231.35 L218.0,231.26 L218.5,231.76 L219.0,232.40 L219.5,232.07 L220.0,232.21 L220.5,231.91 L221.0,232.45 L221.5,232.32 L222.0,231.61 L222.5,232.08 L223.0,231.70 L223.5,231.29 L224.0,231.03 L224.5,231.88 L225.0,232.18 L225.5,231.93 L226.0,232.02 L226.5,232.25 L227.0,231.62 L227.5,232.03 L228.0,232.25 L228.5,232.66 L229.0,231.81 L229.5,231.96 L230.0,231.97 L230.5,232.37 L231.0,232.01 L231.5,232.17 L232.0,232.53 L232.5,232.07 L233.0,232.00 L233.5,232.42 L234.0,231.61 L234.5,232.28 L235.0,231.85 L235.5,231.78 L236.0,231.52 L236.5,231.98 L237.0,231.90 L237.5,232.09 L238.0,231.41 L238.5,231.94 L239.0,232.13 L239.5,232.03 L240.0,231.39 L240.5,231.02 L241.0,230.99 L241.5,230.43 L242.0,231.08 L242.5,230.65 L243.0,230.88 L243.5,229.83 L244.0,229.44 L244.5,228.85 L245.0,227.47 L245.5,224.97 L246.0,220.46 L246.5,213.49 L247.0,201.24 L247.5,190.21 L248.0,196.58 L248.5,210.56 L249.0,219.74 L249.5,223.76 L250.0,225.86 L250.5,227.46 L251.0,228.14 L251.5,228.77 L252.0,229.77 L252.5,229.96 L253.0,230.62 L253.5,230.76 L254.0,230.76 L254.5,231.64 L255.0,231.21 L255.5,231.84 L256.0,231.78 L256.5,231.93 L257.0,231.41 L257.5,231.86 L258.0,232.29 L258.5,231.71 L259.0,231.73 L259.5,231.97 L260.0,231.90 L260.5,232.19 L261.0,232.24 L261.5,231.87 L262.0,232.11 L262.5,232.36 L263.0,232.13 L263.5,232.16 L264.0,232.23 L264.5,232.09 L265.0,231.54 L265.5,231.63 L266.0,232.13 L266.5,232.34 L267.0,231.67 L267.5,231.80 L268.0,232.00 L268.5,232.04 L269.0,231.61 L269.5,231.97 L270.0,232.23 L270.5,232.18 L271.0,232.64 L271.5,232.46 L272.0,231.68 L272.5,231.58 L273.0,232.03 L273.5,231.53 L274.0,232.32 L274.5,232.44 L275.0,232.58 L275.5,231.94 L276.0,231.40 L276.5,232.14 L277.0,232.11 L277.5,232.02 L278.0,232.06 L278.5,232.38 L279.0,232.08 L279.5,232.40 L280.0,231.84 L280.5,232.52 L281.0,232.55 L281.5,232.11 L282.0,232.06 L282.5,232.52 L283.0,232.11 L283.5,232.33 L284.0,232.70 L284.5,232.97 L285.0,232.27 L285.5,232.54 L286.0,232.46 L286.5,232.65 L287.0,231.88 L287.5,231.86 L288.0,231.90 L288.5,232.36 L289.0,232.17 L289.5,231.58 L290.0,231.45 L290.5,232.13 L291.0,232.57 L291.5,232.44 L292.0,231.77 L292.5,232.24 L293.0,232.61 L293.5,232.11 L294.0,232.08 L294.5,231.83 L295.0,231.41 L295.5,231.99 L296.0,231.62 L296.5,231.33 L297.0,232.16 L297.5,231.64 L298.0,232.15 L298.5,232.50 L299.0,232.01 L299.5,231.89 L300.0,231.65 L300.5,232.09 L301.0,232.66 L301.5,232.69 L302.0,232.41 L302.5,232.31 L303.0,232.10 L303.5,232.35 L304.0,231.95 L304.5,231.71 L305.0,232.11 L305.5,231.81 L306.0,232.52 L306.5,232.60 L307.0,231.99 L307.5,231.46 L308.0,231.86 L308.5,231.52 L309.0,231.78 L309.5,232.04 L310.0,232.43 L310.5,232.14 L311.0,232.17 L311.5,232.51" fill="none" stroke="#ff0000" stroke-width="1.15" stroke-linejoin="round"/>
<path d="M1.0,284.77 L1.5,284.83 L2.0,285.16 L2.5,284.97 L3.0,284.89 L3.5,284.91 L4.0,284.60 L4.5,284.69 L5.0,284.83 L5.5,285.03 L6.0,284.58 L6.5,284.50 L7.0,284.28 L7.5,284.73 L8.0,284.88 L8.5,284.44 L9.0,284.95 L9.5,285.21 L10.0,285.09 L10.5,285.00 L11.0,284.57 L11.5,284.21 L12.0,284.42 L12.5,284.15 L13.0,284.10 L13.5,284.10 L14.0,283.92 L14.5,284.15 L15.0,284.25 L15.5,284.61 L16.0,284.53 L16.5,284.56 L17.0,284.44 L17.5,284.48 L18.0,284.31 L18.5,284.03 L19.0,284.42 L19.5,284.58 L20.0,284.48 L20.5,284.26 L21.0,283.74 L21.5,283.29 L22.0,282.97 L22.5,282.47 L23.0,282.56 L23.5,282.07 L24.0,281.81 L24.5,280.81 L25.0,279.96 L25.5,278.23 L26.0,275.01 L26.5,272.47 L27.0,273.27 L27.5,275.77 L28.0,278.59 L28.5,280.01 L29.0,280.71 L29.5,281.69 L30.0,282.48 L30.5,282.61 L31.0,282.64 L31.5,282.93 L32.0,283.66 L32.5,283.96 L33.0,283.66 L33.5,283.64 L34.0,283.55 L34.5,283.50 L35.0,284.09 L35.5,283.94 L36.0,284.19 L36.5,284.25 L37.0,284.10 L37.5,284.46 L38.0,284.20 L38.5,284.47 L39.0,284.21 L39.5,284.32 L40.0,284.22 L40.5,284.22 L41.0,284.79 L41.5,284.98 L42.0,284.69 L42.5,285.00 L43.0,284.63 L43.5,284.58 L44.0,284.93 L44.5,284.95 L45.0,284.54 L45.5,285.02 L46.0,284.67 L46.5,284.52 L47.0,284.85 L47.5,284.68 L48.0,284.56 L48.5,284.32 L49.0,284.20 L49.5,284.53 L50.0,284.45 L50.5,284.69 L51.0,284.64 L51.5,284.68 L52.0,285.10 L52.5,284.96 L53.0,284.96 L53.5,285.19 L54.0,284.77 L54.5,284.52 L55.0,284.98 L55.5,285.17 L56.0,284.82 L56.5,284.58 L57.0,284.88 L57.5,285.22 L58.0,284.80 L58.5,285.18 L59.0,285.33 L59.5,285.20 L60.0,284.98 L60.5,284.60 L61.0,284.34 L61.5,284.94 L62.0,284.69 L62.5,284.93 L63.0,284.70 L63.5,285.03 L64.0,285.03 L64.5,284.78 L65.0,284.56 L65.5,284.87 L66.0,284.52 L66.5,284.46 L67.0,284.69 L67.5,285.05 L68.0,285.05 L68.5,284.79 L69.0,285.16 L69.5,284.79 L70.0,284.44 L70.5,284.44 L71.0,284.59 L71.5,284.36 L72.0,284.33 L72.5,284.47 L73.0,284.71 L73.5,284.48 L74.0,284.55 L74.5,285.01 L75.0,285.33 L75.5,285.25 L76.0,285.23 L76.5,285.14 L77.0,284.73 L77.5,284.42 L78.0,284.24 L78.5,284.85 L79.0,285.02 L79.5,285.33 L80.0,284.74 L80.5,284.91 L81.0,284.88 L81.5,285.06 L82.0,284.83 L82.5,285.25 L83.0,284.74 L83.5,284.84 L84.0,285.05 L84.5,285.29 L85.0,285.29 L85.5,285.27 L86.0,285.33 L86.5,285.46 L87.0,285.08 L87.5,285.14 L88.0,285.34 L88.5,285.43 L89.0,285.12 L89.5,285.24 L90.0,285.37 L90.5,285.21 L91.0,285.16 L91.5,284.94 L92.0,284.98 L92.5,285.02 L93.0,284.62 L93.5,284.85 L94.0,285.26 L94.5,285.39 L95.0,285.34 L95.5,285.05 L96.0,285.16 L96.5,285.10 L97.0,284.95 L97.5,285.19 L98.0,284.72 L98.5,284.99 L99.0,284.57 L99.5,284.79 L100.0,284.82 L100.5,284.63 L101.0,284.90 L101.5,284.89 L102.0,284.98 L102.5,285.27 L103.0,284.90 L103.5,284.50 L104.0,284.51 L104.5,284.82 L105.0,284.61 L105.5,284.47 L106.0,284.98 L106.5,285.06 L107.0,284.94 L107.5,285.23 L108.0,284.93 L108.5,285.04 L109.0,284.73 L109.5,284.74 L110.0,285.05 L110.5,285.31 L111.0,285.42 L111.5,285.09 L112.0,285.06 L112.5,284.83 L113.0,284.56 L113.5,284.71 L114.0,285.05 L114.5,285.26 L115.0,285.26 L115.5,285.45 L116.0,285.02 L116.5,284.69 L117.0,284.74 L117.5,284.62 L118.0,284.51 L118.5,284.61 L119.0,284.83 L119.5,284.85 L120.0,284.72 L120.5,285.06 L121.0,285.37 L121.5,285.11 L122.0,284.67 L122.5,284.39 L123.0,284.91 L123.5,284.53 L124.0,284.86 L124.5,284.92 L125.0,284.75 L125.5,285.04 L126.0,284.59 L126.5,284.43 L127.0,284.60 L127.5,284.34 L128.0,284.85 L128.5,284.65 L129.0,284.47 L129.5,284.29 L130.0,284.66 L130.5,284.72 L131.0,284.89 L131.5,285.01 L132.0,285.20 L132.5,285.42 L133.0,285.33 L133.5,284.88 L134.0,284.86 L134.5,284.61 L135.0,284.34 L135.5,284.56 L136.0,284.88 L136.5,284.62 L137.0,284.55 L137.5,284.58 L138.0,284.87 L138.5,284.89 L139.0,284.98 L139.5,285.14 L140.0,284.93 L140.5,285.14 L141.0,285.35 L141.5,284.81 L142.0,285.18 L142.5,285.22 L143.0,284.77 L143.5,284.78 L144.0,284.92 L144.5,285.23 L145.0,284.97 L145.5,284.98 L146.0,285.24 L146.5,285.31 L147.0,285.47 L147.5,285.17 L148.0,285.16 L148.5,284.79 L149.0,285.01 L149.5,285.20 L150.0,285.17 L150.5,285.21 L151.0,284.83 L151.5,285.17 L152.0,285.42 L152.5,285.55 L153.0,285.27 L153.5,285.32 L154.0,284.98 L154.5,285.25 L155.0,285.36 L155.5,285.02 L156.0,284.62 L156.5,284.68 L157.0,284.80 L157.5,285.05 L158.0,284.95 L158.5,284.54 L159.0,284.93 L159.5,284.55 L160.0,284.93 L160.5,284.64 L161.0,284.60 L161.5,284.95 L162.0,284.62 L162.5,284.45 L163.0,284.64 L163.5,284.92 L164.0,285.16 L164.5,285.17 L165.0,285.38 L165.5,285.14 L166.0,285.37 L166.5,284.80 L167.0,284.60 L167.5,284.73 L168.0,284.61 L168.5,284.90 L169.0,284.98 L169.5,284.94 L170.0,285.17 L170.5,285.06 L171.0,284.81 L171.5,284.72 L172.0,285.05 L172.5,285.27 L173.0,284.83 L173.5,285.11 L174.0,285.35 L174.5,285.13 L175.0,285.05 L175.5,284.70 L176.0,284.78 L176.5,284.79 L177.0,284.88 L177.5,284.46 L178.0,284.99 L178.5,284.91 L179.0,284.77 L179.5,285.01 L180.0,284.96 L180.5,284.86 L181.0,284.97 L181.5,284.52 L182.0,284.65 L182.5,284.62 L183.0,285.03 L183.5,285.23 L184.0,284.81 L184.5,284.74 L185.0,284.41 L185.5,284.48 L186.0,284.81 L186.5,285.05 L187.0,284.84 L187.5,284.59 L188.0,284.34 L188.5,284.53 L189.0,284.87 L189.5,284.41 L190.0,284.66 L190.5,284.17 L191.0,284.03 L191.5,283.95 L192.0,284.25 L192.5,284.10 L193.0,284.01 L193.5,284.13 L194.0,283.75 L194.5,283.99 L195.0,283.58 L195.5,283.59 L196.0,283.30 L196.5,282.98 L197.0,282.92 L197.5,282.60 L198.0,282.13 L198.5,281.70 L199.0,281.60 L199.5,281.56 L200.0,281.91 L200.5,282.64 L201.0,283.16 L201.5,283.43 L202.0,283.89 L202.5,284.00 L203.0,284.30 L203.5,284.00 L204.0,284.27 L204.5,284.51 L205.0,284.74 L205.5,284.42 L206.0,284.26 L206.5,284.67 L207.0,284.35 L207.5,284.82 L208.0,284.99 L208.5,284.50 L209.0,284.32 L209.5,284.62 L210.0,284.42 L210.5,284.19 L211.0,284.65 L211.5,284.59 L212.0,284.85 L212.5,284.47 L213.0,284.48 L213.5,284.72 L214.0,284.32 L214.5,284.25 L215.0,284.60 L215.5,284.98 L216.0,285.23 L216.5,284.69 L217.0,284.71 L217.5,284.92 L218.0,284.84 L218.5,284.94 L219.0,284.60 L219.5,284.31 L220.0,284.19 L220.5,284.06 L221.0,284.41 L221.5,284.57 L222.0,284.70 L222.5,284.43 L223.0,284.31 L223.5,284.26 L224.0,284.75 L224.5,285.13 L225.0,285.29 L225.5,284.71 L226.0,284.36 L226.5,284.88 L227.0,284.77 L227.5,284.95 L228.0,284.70 L228.5,284.67 L229.0,284.69 L229.5,284.63 L230.0,284.73 L230.5,284.31 L231.0,284.62 L231.5,284.91 L232.0,284.53 L232.5,284.53 L233.0,284.75 L233.5,284.60 L234.0,284.34 L234.5,284.17 L235.0,284.34 L235.5,284.03 L236.0,284.55 L236.5,284.74 L237.0,284.76 L237.5,284.88 L238.0,284.74 L238.5,284.46 L239.0,284.44 L239.5,284.32 L240.0,284.61 L240.5,284.59 L241.0,284.09 L241.5,284.29 L242.0,284.21 L242.5,284.11 L243.0,284.00 L243.5,283.51 L244.0,283.49 L244.5,283.29 L245.0,282.81 L245.5,282.31 L246.0,281.63 L246.5,280.38 L247.0,279.05 L247.5,276.36 L248.0,272.51 L248.5,265.60 L249.0,252.76 L249.5,240.23 L250.0,247.04 L250.5,261.54 L251.0,270.28 L251.5,275.53 L252.0,278.29 L252.5,279.72 L253.0,280.96 L253.5,281.74 L254.0,282.28 L254.5,282.58 L255.0,283.34 L255.5,283.55 L256.0,283.78 L256.5,284.02 L257.0,284.37 L257.5,283.84 L258.0,284.06 L258.5,284.31 L259.0,284.09 L259.5,284.11 L260.0,283.86 L260.5,283.86 L261.0,284.02 L261.5,283.90 L262.0,283.97 L262.5,284.55 L263.0,284.59 L263.5,284.59 L264.0,284.96 L264.5,284.86 L265.0,285.15 L265.5,285.03 L266.0,285.11 L266.5,284.57 L267.0,284.70 L267.5,284.90 L268.0,284.45 L268.5,284.91 L269.0,284.55 L269.5,284.61 L270.0,284.40 L270.5,284.55 L271.0,284.73 L271.5,284.39 L272.0,284.91 L272.5,284.78 L273.0,284.80 L273.5,284.87 L274.0,284.72 L274.5,284.58 L275.0,284.80 L275.5,284.85 L276.0,284.65 L276.5,284.89 L277.0,284.69 L277.5,284.35 L278.0,284.36 L278.5,284.20 L279.0,284.20 L279.5,284.68 L280.0,284.66 L280.5,285.05 L281.0,285.15 L281.5,284.64 L282.0,285.12 L282.5,285.35 L283.0,284.77 L283.5,285.13 L284.0,284.94 L284.5,284.88 L285.0,285.24 L285.5,284.85 L286.0,284.87 L286.5,285.21 L287.0,285.22 L287.5,285.03 L288.0,285.33 L288.5,285.37 L289.0,285.22 L289.5,284.75 L290.0,284.89 L290.5,284.84 L291.0,284.61 L291.5,284.36 L292.0,284.61 L292.5,284.42 L293.0,284.57 L293.5,284.84 L294.0,284.81 L294.5,284.64 L295.0,284.81 L295.5,284.77 L296.0,285.03 L296.5,284.98 L297.0,285.33 L297.5,285.48 L298.0,285.39 L298.5,284.95 L299.0,284.60 L299.5,285.04 L300.0,285.19 L300.5,285.14 L301.0,284.91 L301.5,284.71 L302.0,284.93 L302.5,284.96 L303.0,284.99 L303.5,285.04 L304.0,285.17 L304.5,284.79 L305.0,284.63 L305.5,285.12 L306.0,285.34 L306.5,285.44 L307.0,284.81 L307.5,284.49 L308.0,284.48 L308.5,284.60 L309.0,284.82 L309.5,284.53 L310.0,284.72 L310.5,284.45 L311.0,284.31 L311.5,284.71" fill="none" stroke="#1212ee" stroke-width="1.15" stroke-linejoin="round"/>
<line x1="27.1" y1="108.7" x2="27.1" y2="293" stroke="#3a3a3a" stroke-width="1.2" stroke-dasharray="1.7,1.0"/>
<line x1="198.9" y1="108.7" x2="198.9" y2="293" stroke="#3a3a3a" stroke-width="1.2" stroke-dasharray="1.7,1.0"/>
<line x1="249.5" y1="108.7" x2="249.5" y2="293" stroke="#3a3a3a" stroke-width="1.2" stroke-dasharray="1.7,1.0"/>
<line x1="1" y1="288.4" x2="311.5" y2="288.4" stroke="#444" stroke-width="1.1"/>
<line x1="4.52" y1="288.4" x2="4.52" y2="290.2" stroke="#444" stroke-width="1"/>
<line x1="20.10" y1="288.4" x2="20.10" y2="291.3" stroke="#444" stroke-width="1"/>
<line x1="35.68" y1="288.4" x2="35.68" y2="290.2" stroke="#444" stroke-width="1"/>
<line x1="51.26" y1="288.4" x2="51.26" y2="290.2" stroke="#444" stroke-width="1"/>
<line x1="66.84" y1="288.4" x2="66.84" y2="290.2" stroke="#444" stroke-width="1"/>
<line x1="82.42" y1="288.4" x2="82.42" y2="290.2" stroke="#444" stroke-width="1"/>
<line x1="98.00" y1="288.4" x2="98.00" y2="291.3" stroke="#444" stroke-width="1"/>
<line x1="113.58" y1="288.4" x2="113.58" y2="290.2" stroke="#444" stroke-width="1"/>
<line x1="129.16" y1="288.4" x2="129.16" y2="290.2" stroke="#444" stroke-width="1"/>
<line x1="144.74" y1="288.4" x2="144.74" y2="290.2" stroke="#444" stroke-width="1"/>
<line x1="160.32" y1="288.4" x2="160.32" y2="290.2" stroke="#444" stroke-width="1"/>
<line x1="175.90" y1="288.4" x2="175.90" y2="291.3" stroke="#444" stroke-width="1"/>
<line x1="191.48" y1="288.4" x2="191.48" y2="290.2" stroke="#444" stroke-width="1"/>
<line x1="207.06" y1="288.4" x2="207.06" y2="290.2" stroke="#444" stroke-width="1"/>
<line x1="222.64" y1="288.4" x2="222.64" y2="290.2" stroke="#444" stroke-width="1"/>
<line x1="238.22" y1="288.4" x2="238.22" y2="290.2" stroke="#444" stroke-width="1"/>
<line x1="253.80" y1="288.4" x2="253.80" y2="291.3" stroke="#444" stroke-width="1"/>
<line x1="269.38" y1="288.4" x2="269.38" y2="290.2" stroke="#444" stroke-width="1"/>
<line x1="284.96" y1="288.4" x2="284.96" y2="290.2" stroke="#444" stroke-width="1"/>
<line x1="300.54" y1="288.4" x2="300.54" y2="290.2" stroke="#444" stroke-width="1"/>
<text x="20.1" y="300.8" font-size="10" text-anchor="middle" font-weight="normal" fill="#111" >15</text>
<text x="98.0" y="300.8" font-size="10" text-anchor="middle" font-weight="normal" fill="#111" >14</text>
<text x="175.9" y="300.8" font-size="10" text-anchor="middle" font-weight="normal" fill="#111" >13</text>
<text x="253.8" y="300.8" font-size="10" text-anchor="middle" font-weight="normal" fill="#111" >12</text>
<text x="277" y="300.8" font-size="10" text-anchor="start" font-weight="normal" fill="#111" >[ppm]</text>
<text x="15.2" y="102.9" font-size="9.4" text-anchor="start" font-weight="normal" fill="#111" letter-spacing="0.1">E46 H<tspan font-size="6.2" dy="1.5">ε2</tspan></text>
<text x="185.2" y="102.8" font-size="9.4" text-anchor="start" font-weight="normal" fill="#111" letter-spacing="0.1">Y42 H<tspan font-size="6.2" dy="1.5">η</tspan></text>
<text x="231.4" y="102.8" font-size="9.4" text-anchor="start" font-weight="normal" fill="#111" letter-spacing="0.1">W94 H<tspan font-size="6.2" dy="1.5">ε1</tspan></text>
<text x="311.5" y="167" font-size="10" text-anchor="end" font-weight="normal" fill="#111" >mcFAST-L,</text>
<text x="311.5" y="176.6" font-size="10" text-anchor="end" font-weight="normal" fill="#111" >8700</text>
<text x="311.5" y="217.1" font-size="10" text-anchor="end" font-weight="normal" fill="#111" >mcFAST-Y,</text>
<text x="311.5" y="226.7" font-size="10" text-anchor="end" font-weight="normal" fill="#111" >8400</text>
<text x="300.8" y="113.0" font-size="10" text-anchor="middle" font-weight="normal" fill="#111" >P68T,</text>
<text x="301.0" y="122.7" font-size="10" text-anchor="middle" font-weight="normal" fill="#111" >4500</text>
<text x="301.9" y="270.6" font-size="10" text-anchor="middle" font-weight="normal" fill="#111" >WT,</text>
<text x="301.9" y="280.3" font-size="10" text-anchor="middle" font-weight="normal" fill="#111" >7000</text>
</g>
<g>
<line x1="359" y1="11.5" x2="497.4" y2="11.5" stroke="#d9d9d9" stroke-width="1"/>
<line x1="359" y1="32.5" x2="497.4" y2="32.5" stroke="#d9d9d9" stroke-width="1"/>
<line x1="359" y1="53.5" x2="497.4" y2="53.5" stroke="#d9d9d9" stroke-width="1"/>
<line x1="359" y1="74.5" x2="497.4" y2="74.5" stroke="#d9d9d9" stroke-width="1"/>
<line x1="359" y1="95.5" x2="497.4" y2="95.5" stroke="#d9d9d9" stroke-width="1"/>
<line x1="375.5" y1="11" x2="375.5" y2="115.5" stroke="#d9d9d9" stroke-width="1"/>
<line x1="403.5" y1="11" x2="403.5" y2="115.5" stroke="#d9d9d9" stroke-width="1"/>
<line x1="430.5" y1="11" x2="430.5" y2="115.5" stroke="#d9d9d9" stroke-width="1"/>
<line x1="485.5" y1="11" x2="485.5" y2="115.5" stroke="#d9d9d9" stroke-width="1"/>
<line x1="458.5" y1="11" x2="458.5" y2="115.5" stroke="#777" stroke-width="1"/>
<line x1="359" y1="115.8" x2="497.4" y2="115.8" stroke="#999" stroke-width="1.4"/>
<text x="356" y="15.2" font-size="10.5" text-anchor="end" font-weight="normal" fill="#111" >9</text>
<text x="356" y="35.9" font-size="10.5" text-anchor="end" font-weight="normal" fill="#111" >8</text>
<text x="356" y="56.5" font-size="10.5" text-anchor="end" font-weight="normal" fill="#111" >7</text>
<text x="356" y="76.8" font-size="10.5" text-anchor="end" font-weight="normal" fill="#111" >6</text>
<text x="356" y="97.0" font-size="10.5" text-anchor="end" font-weight="normal" fill="#111" >5</text>
<text x="356" y="117.5" font-size="10.5" text-anchor="end" font-weight="normal" fill="#111" >4</text>
<text x="374.3" y="125.8" font-size="10.5" text-anchor="middle" font-weight="normal" fill="#111" >-0.3</text>
<text x="402.3" y="125.8" font-size="10.5" text-anchor="middle" font-weight="normal" fill="#111" >-0.2</text>
<text x="429.3" y="125.8" font-size="10.5" text-anchor="middle" font-weight="normal" fill="#111" >-0.1</text>
<text x="457.3" y="125.8" font-size="10.5" text-anchor="middle" font-weight="normal" fill="#111" >0.0</text>
<text x="484.3" y="125.8" font-size="10.5" text-anchor="middle" font-weight="normal" fill="#111" >0.1</text>
<text x="364.5" y="9.9" font-size="10.2" text-anchor="start" font-weight="normal" fill="#111" >R=0.57</text>
<text x="390.5" y="138" font-size="11" text-anchor="start" font-weight="normal" fill="#111" >ΔW94 H<tspan font-size="8" dy="1.5">ε1</tspan><tspan dy="-1.5" letter-spacing="0.35">,ppm</tspan></text>
<text x="0" y="0" font-size="10.1" text-anchor="start" font-weight="normal" fill="#111" transform="translate(343.6,100.9) rotate(-90)">brightness, x10<tspan font-size="7" dy="-3.5">3</tspan></text>
<line x1="355" y1="90.7" x2="497.4" y2="42.0" stroke="#4285f4" stroke-width="1" stroke-dasharray="1.6,1.2"/>
<circle cx="362.3" cy="49.2" r="2.4" fill="#4285f4"/>
<circle cx="384.1" cy="105.6" r="2.4" fill="#4285f4"/>
<circle cx="400.6" cy="69.8" r="2.4" fill="#4285f4"/>
<circle cx="403.1" cy="90.8" r="2.4" fill="#4285f4"/>
<circle cx="406.1" cy="99.3" r="2.4" fill="#4285f4"/>
<circle cx="408.6" cy="82.6" r="2.4" fill="#4285f4"/>
<circle cx="447.2" cy="49.2" r="2.4" fill="#4285f4"/>
<circle cx="447.2" cy="63.9" r="2.4" fill="#4285f4"/>
<circle cx="455.6" cy="53.4" r="2.4" fill="#4285f4"/>
<circle cx="458.0" cy="51.3" r="2.4" fill="#4285f4"/>
<circle cx="457.2" cy="53.0" r="2.4" fill="#4285f4"/>
<circle cx="458.4" cy="57.5" r="2.4" fill="#4285f4"/>
<circle cx="463.8" cy="51.3" r="2.4" fill="#4285f4"/>
<circle cx="463.8" cy="38.5" r="2.4" fill="#4285f4"/>
<circle cx="485.9" cy="63.9" r="2.4" fill="#4285f4"/>
<circle cx="491.3" cy="65.7" r="2.4" fill="#4285f4"/>
<circle cx="494.1" cy="57.5" r="2.4" fill="#4285f4"/>
<circle cx="466.5" cy="24.2" r="2.4" fill="#ff6d01"/>
<circle cx="482.9" cy="17.9" r="2.4" fill="#ff6d01"/>
</g>
<g>
<line x1="546" y1="11.5" x2="685" y2="11.5" stroke="#d9d9d9" stroke-width="1"/>
<line x1="546" y1="32.5" x2="685" y2="32.5" stroke="#d9d9d9" stroke-width="1"/>
<line x1="546" y1="53.5" x2="685" y2="53.5" stroke="#d9d9d9" stroke-width="1"/>
<line x1="546" y1="74.5" x2="685" y2="74.5" stroke="#d9d9d9" stroke-width="1"/>
<line x1="546" y1="95.5" x2="685" y2="95.5" stroke="#d9d9d9" stroke-width="1"/>
<line x1="567.5" y1="11" x2="567.5" y2="115.5" stroke="#d9d9d9" stroke-width="1"/>
<line x1="598.5" y1="11" x2="598.5" y2="115.5" stroke="#d9d9d9" stroke-width="1"/>
<line x1="630" y1="11" x2="630" y2="115.5" stroke="#d9d9d9" stroke-width="1"/>
<line x1="661.5" y1="11" x2="661.5" y2="115.5" stroke="#d9d9d9" stroke-width="1"/>
<line x1="546" y1="115.8" x2="685" y2="115.8" stroke="#999" stroke-width="1.4"/>
<text x="543.5" y="15.2" font-size="10.5" text-anchor="end" font-weight="normal" fill="#111" >9</text>
<text x="543.5" y="36.0" font-size="10.5" text-anchor="end" font-weight="normal" fill="#111" >8</text>
<text x="543.5" y="56.5" font-size="10.5" text-anchor="end" font-weight="normal" fill="#111" >7</text>
<text x="543.5" y="76.8" font-size="10.5" text-anchor="end" font-weight="normal" fill="#111" >6</text>
<text x="543.5" y="97.2" font-size="10.5" text-anchor="end" font-weight="normal" fill="#111" >5</text>
<text x="543.5" y="117.8" font-size="10.5" text-anchor="end" font-weight="normal" fill="#111" >4</text>
<text x="566.3" y="125.8" font-size="10.5" text-anchor="middle" font-weight="normal" fill="#111" >1.0</text>
<text x="597.5" y="125.8" font-size="10.5" text-anchor="middle" font-weight="normal" fill="#111" >1.5</text>
<text x="630.2" y="125.8" font-size="10.5" text-anchor="middle" font-weight="normal" fill="#111" >2.0</text>
<text x="661.4" y="125.8" font-size="10.5" text-anchor="middle" font-weight="normal" fill="#111" >2.5</text>
<text x="554.3" y="9.9" font-size="10.2" text-anchor="start" font-weight="normal" fill="#111" >R=0.36</text>
<text x="587.6" y="137.8" font-size="10.4" text-anchor="start" font-weight="normal" fill="#111" >stability, rel.</text>
<text x="0" y="0" font-size="10" text-anchor="start" font-weight="normal" fill="#111" transform="translate(531.2,101.3) rotate(-90)">brightness, x10<tspan font-size="7" dy="-3.5">3</tspan></text>
<line x1="544.8" y1="74.1" x2="685" y2="43.2" stroke="#4285f4" stroke-width="1" stroke-dasharray="1.6,1.2"/>
<circle cx="549.3" cy="63.5" r="2.4" fill="#4285f4"/>
<circle cx="556.2" cy="57.2" r="2.4" fill="#4285f4"/>
<circle cx="566.6" cy="48.9" r="2.4" fill="#4285f4"/>
<circle cx="576.1" cy="38.7" r="2.4" fill="#4285f4"/>
<circle cx="581.8" cy="90.8" r="2.4" fill="#4285f4"/>
<circle cx="593.7" cy="82.5" r="2.4" fill="#4285f4"/>
<circle cx="596.1" cy="50.9" r="2.4" fill="#4285f4"/>
<circle cx="598.1" cy="105.5" r="2.4" fill="#4285f4"/>
<circle cx="607.9" cy="63.8" r="2.4" fill="#4285f4"/>
<circle cx="609.5" cy="51.3" r="2.4" fill="#4285f4"/>
<circle cx="610.5" cy="48.9" r="2.4" fill="#4285f4"/>
<circle cx="610.8" cy="57.4" r="2.4" fill="#4285f4"/>
<circle cx="614.8" cy="52.8" r="2.4" fill="#4285f4"/>
<circle cx="612.5" cy="52.5" r="2.4" fill="#4285f4"/>
<circle cx="617.3" cy="99.2" r="2.4" fill="#4285f4"/>
<circle cx="619.8" cy="70.0" r="2.4" fill="#4285f4"/>
<circle cx="668.1" cy="66.0" r="2.4" fill="#4285f4"/>
<circle cx="679.5" cy="17.7" r="2.4" fill="#ff6d01"/>
<circle cx="681.5" cy="24.0" r="2.4" fill="#ff6d01"/>
</g>
<g>
<line x1="359.2" y1="184.5" x2="494.5" y2="184.5" stroke="#d9d9d9" stroke-width="1"/>
<line x1="359.2" y1="216.5" x2="494.5" y2="216.5" stroke="#d9d9d9" stroke-width="1"/>
<line x1="359.2" y1="248.5" x2="494.5" y2="248.5" stroke="#d9d9d9" stroke-width="1"/>
<line x1="379.5" y1="176.5" x2="379.5" y2="280" stroke="#d9d9d9" stroke-width="1"/>
<line x1="410.5" y1="176.5" x2="410.5" y2="280" stroke="#d9d9d9" stroke-width="1"/>
<line x1="441.5" y1="176.5" x2="441.5" y2="280" stroke="#d9d9d9" stroke-width="1"/>
<line x1="471.5" y1="176.5" x2="471.5" y2="280" stroke="#d9d9d9" stroke-width="1"/>
<line x1="359.2" y1="280.5" x2="494.5" y2="280.5" stroke="#999" stroke-width="1.4"/>
<text x="356" y="188.2" font-size="10.5" text-anchor="end" font-weight="normal" fill="#111" >30</text>
<text x="356" y="220.2" font-size="10.5" text-anchor="end" font-weight="normal" fill="#111" >28</text>
<text x="356" y="252.2" font-size="10.5" text-anchor="end" font-weight="normal" fill="#111" >26</text>
<text x="356" y="284.2" font-size="10.5" text-anchor="end" font-weight="normal" fill="#111" >24</text>
<text x="378.9" y="290.9" font-size="10.5" text-anchor="middle" font-weight="normal" fill="#111" >1.0</text>
<text x="410.5" y="290.9" font-size="10.5" text-anchor="middle" font-weight="normal" fill="#111" >1.5</text>
<text x="441.5" y="290.9" font-size="10.5" text-anchor="middle" font-weight="normal" fill="#111" >2.0</text>
<text x="471.9" y="290.9" font-size="10.5" text-anchor="middle" font-weight="normal" fill="#111" >2.5</text>
<text x="364.5" y="175.5" font-size="10.2" text-anchor="start" font-weight="normal" fill="#111" >R=0.63</text>
<text x="399.8" y="301.9" font-size="10.4" text-anchor="start" font-weight="normal" fill="#111" >stability, rel.</text>
<text x="0" y="0" font-size="9.5" text-anchor="start" font-weight="normal" fill="#111" transform="translate(339.0,249.3) rotate(-90)">ε, mM<tspan font-size="6" dy="-3.5">-1</tspan><tspan dy="3.5">cm</tspan><tspan font-size="6" dy="-3.5">-1</tspan></text>
<line x1="357.5" y1="245.1" x2="494.5" y2="196.2" stroke="#4285f4" stroke-width="1" stroke-dasharray="1.6,1.2"/>
<circle cx="362.5" cy="264.9" r="2.4" fill="#4285f4"/>
<circle cx="369.2" cy="248.6" r="2.4" fill="#4285f4"/>
<circle cx="379.4" cy="240.2" r="2.4" fill="#4285f4"/>
<circle cx="388.8" cy="208.5" r="2.4" fill="#4285f4"/>
<circle cx="394.3" cy="224.6" r="2.4" fill="#4285f4"/>
<circle cx="405.7" cy="216.4" r="2.4" fill="#4285f4"/>
<circle cx="408.1" cy="192.4" r="2.4" fill="#4285f4"/>
<circle cx="410.2" cy="240.2" r="2.4" fill="#4285f4"/>
<circle cx="419.5" cy="232.7" r="2.4" fill="#4285f4"/>
<circle cx="421.2" cy="208.5" r="2.4" fill="#4285f4"/>
<circle cx="422.8" cy="208.5" r="2.4" fill="#4285f4"/>
<circle cx="421.8" cy="224.6" r="2.4" fill="#4285f4"/>
<circle cx="424.8" cy="232.7" r="2.4" fill="#4285f4"/>
<circle cx="426.7" cy="216.4" r="2.4" fill="#4285f4"/>
<circle cx="428.6" cy="240.2" r="2.4" fill="#4285f4"/>
<circle cx="431.3" cy="232.7" r="2.4" fill="#4285f4"/>
<circle cx="478.2" cy="216.6" r="2.4" fill="#4285f4"/>
<circle cx="489.0" cy="184.4" r="2.4" fill="#ff6d01"/>
<circle cx="491.0" cy="200.5" r="2.4" fill="#ff6d01"/>
</g>
<g>
<line x1="546.8" y1="187.5" x2="685" y2="187.5" stroke="#bdbdbd" stroke-width="1"/>
<line x1="546.8" y1="203.5" x2="685" y2="203.5" stroke="#bdbdbd" stroke-width="1"/>
<line x1="546.8" y1="220.5" x2="685" y2="220.5" stroke="#bdbdbd" stroke-width="1"/>
<line x1="545.3" y1="253" x2="547.5" y2="253" stroke="#bdbdbd" stroke-width="1"/>
<rect x="550.2" y="199.2" width="7.3" height="37.3" fill="#0000ff"/>
<rect x="561.8" y="211.6" width="7.3" height="24.9" fill="#00ccff"/>
<rect x="573.1" y="219.1" width="7.3" height="17.4" fill="#d3e8f1"/>
<rect x="584.2" y="219.1" width="7.3" height="17.4" fill="#d3e8f1"/>
<rect x="595.3" y="213.6" width="7.3" height="22.9" fill="#d3e8f1"/>
<rect x="606.5" y="236.5" width="7.3" height="15.7" fill="#d3e8f1"/>
<rect x="617.4" y="236.5" width="7.3" height="11.1" fill="#d3e8f1"/>
<rect x="628.9" y="231.1" width="7.3" height="5.4" fill="#d3e8f1"/>
<rect x="640.2" y="216.8" width="7.3" height="19.7" fill="#d3e8f1"/>
<rect x="651.2" y="218.2" width="7.3" height="18.3" fill="#d3e8f1"/>
<rect x="662.4" y="201.8" width="7.3" height="34.7" fill="#3385ff"/>
<rect x="673.6" y="197.5" width="7.3" height="39.0" fill="#0000ff"/>
<line x1="546.8" y1="236.5" x2="685" y2="236.5" stroke="#aaa" stroke-width="1"/>
<text x="544.3" y="191.1" font-size="10" text-anchor="end" font-weight="normal" fill="#111" >0.75</text>
<text x="544.3" y="207.1" font-size="10" text-anchor="end" font-weight="normal" fill="#111" >0.50</text>
<text x="544.3" y="224.1" font-size="10" text-anchor="end" font-weight="normal" fill="#111" >0.25</text>
<text x="544.3" y="240.1" font-size="10" text-anchor="end" font-weight="normal" fill="#111" >0.00</text>
<text x="544.3" y="256.6" font-size="10" text-anchor="end" font-weight="normal" fill="#111" >-0.25</text>
<text x="553.9" y="245.6" font-size="8.6" text-anchor="middle" font-weight="normal" fill="#111" >94</text>
<text x="565.4" y="245.6" font-size="8.6" text-anchor="middle" font-weight="normal" fill="#111" >46</text>
<text x="576.8" y="245.6" font-size="8.6" text-anchor="middle" font-weight="normal" fill="#111" >42</text>
<text x="587.9" y="245.6" font-size="8.6" text-anchor="middle" font-weight="normal" fill="#111" >94</text>
<text x="598.9" y="245.6" font-size="8.6" text-anchor="middle" font-weight="normal" fill="#111" >46</text>
<text x="610.1" y="234.3" font-size="8.6" text-anchor="middle" font-weight="normal" fill="#111" >42</text>
<text x="621.0" y="234.3" font-size="8.6" text-anchor="middle" font-weight="normal" fill="#111" >94</text>
<text x="632.5" y="245.6" font-size="8.6" text-anchor="middle" font-weight="normal" fill="#111" >46</text>
<text x="643.9" y="245.6" font-size="8.6" text-anchor="middle" font-weight="normal" fill="#111" >42</text>
<text x="654.9" y="245.6" font-size="8.6" text-anchor="middle" font-weight="normal" fill="#111" >94</text>
<text x="666.0" y="245.6" font-size="8.6" text-anchor="middle" font-weight="normal" fill="#111" >46</text>
<text x="677.2" y="245.6" font-size="8.6" text-anchor="middle" font-weight="normal" fill="#111" >42</text>
<rect x="549.1" y="175.6" width="6" height="6" fill="#0000ff"/>
<text x="557.3" y="182.0" font-size="8.6" text-anchor="start" font-weight="normal" fill="#111" >p&lt;0.01</text>
<rect x="585.9" y="175.6" width="6" height="6" fill="#3385ff"/>
<text x="594.1" y="182.0" font-size="8.6" text-anchor="start" font-weight="normal" fill="#111" >p&lt;0.02</text>
<rect x="623.7" y="175.6" width="6" height="6" fill="#00ccff"/>
<text x="631.9" y="182.0" font-size="8.6" text-anchor="start" font-weight="normal" fill="#111" >p&lt;0.1</text>
<rect x="654.7" y="175.6" width="6" height="6" fill="#d3e8f1"/>
<text x="662.9" y="182.0" font-size="8.6" text-anchor="start" font-weight="normal" fill="#111" >p&gt;0.2</text>
<text x="0" y="0" font-size="10" text-anchor="start" font-weight="normal" fill="#111" transform="translate(518.2,252.3) rotate(-90)">correlation, R</text>
<path d="M549.0,251.8 C549.0,255.65 552.0,255.65 556.575,255.65 C561.15,255.65 564.15,255.65 564.15,258.8 C564.15,255.65 567.15,255.65 571.7249999999999,255.65 C576.3,255.65 579.3,255.65 579.3,251.8" fill="none" stroke="#444" stroke-width="0.8"/>
<path d="M582.9,251.8 C582.9,255.65 585.9,255.65 590.5999999999999,255.65 C595.3,255.65 598.3,255.65 598.3,258.8 C598.3,255.65 601.3,255.65 606.0,255.65 C610.7,255.65 613.7,255.65 613.7,251.8" fill="none" stroke="#444" stroke-width="0.8"/>
<path d="M617.2,251.8 C617.2,255.65 620.2,255.65 624.725,255.65 C629.25,255.65 632.25,255.65 632.25,258.8 C632.25,255.65 635.25,255.65 639.775,255.65 C644.3,255.65 647.3,255.65 647.3,251.8" fill="none" stroke="#444" stroke-width="0.8"/>
<path d="M651.2,251.8 C651.2,255.65 654.2,255.65 658.825,255.65 C663.45,255.65 666.45,255.65 666.45,258.8 C666.45,255.65 669.45,255.65 674.075,255.65 C678.7,255.65 681.7,255.65 681.7,251.8" fill="none" stroke="#444" stroke-width="0.8"/>
<path d="M565.6,271.3 C565.6,275.15000000000003 568.6,275.15000000000003 573.45,275.15000000000003 C578.3,275.15000000000003 581.3,275.15000000000003 581.3,278.3 C581.3,275.15000000000003 584.3,275.15000000000003 589.15,275.15000000000003 C594.0,275.15000000000003 597.0,275.15000000000003 597.0,271.3" fill="none" stroke="#444" stroke-width="0.8"/>
<path d="M634.5,271.3 C634.5,275.15000000000003 637.5,275.15000000000003 641.875,275.15000000000003 C646.25,275.15000000000003 649.25,275.15000000000003 649.25,278.3 C649.25,275.15000000000003 652.25,275.15000000000003 656.625,275.15000000000003 C661.0,275.15000000000003 664.0,275.15000000000003 664.0,271.3" fill="none" stroke="#444" stroke-width="0.8"/>
<text x="563.5" y="267.6" font-size="9.5" text-anchor="middle" font-weight="normal" fill="#111" >Q.Y.</text>
<text x="597.5" y="267.6" font-size="9" text-anchor="middle" font-weight="normal" fill="#111" >ε</text>
<text x="632.3" y="267.6" font-size="9.5" text-anchor="middle" font-weight="normal" fill="#111" >Q.Y.</text>
<text x="666.5" y="267.6" font-size="9" text-anchor="middle" font-weight="normal" fill="#111" >ε</text>
<text x="581.1" y="288.6" font-size="10" text-anchor="middle" font-weight="normal" fill="#111" >chem. shift</text>
<text x="648.6" y="287.9" font-size="10" text-anchor="middle" font-weight="normal" fill="#111" >rel.intensity</text>
</g>
</svg>
</body></html>
